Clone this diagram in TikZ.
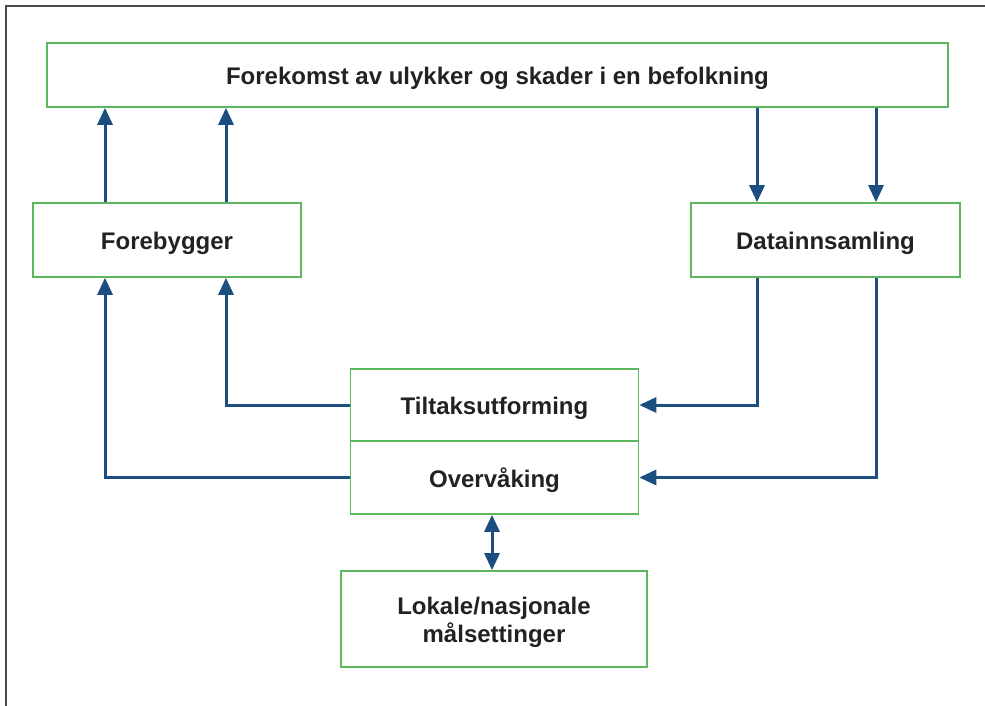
\documentclass[tikz,border=0pt]{standalone}
\usepackage{fontspec}
\setmainfont{Liberation Sans}
\usetikzlibrary{arrows.meta}
\definecolor{boxgreen}{HTML}{5DB85D}
\definecolor{arrblue}{HTML}{1C4E80}
\definecolor{txt}{HTML}{222222}
\definecolor{frame}{HTML}{4A4A4A}
\newcommand{\dn}[2][3pt]{\raisebox{-#1}[\height][\depth]{#2}}
\tikzset{
  box/.style={draw=boxgreen, line width=1.6pt, fill=white, rectangle, inner sep=0pt,
    font=\fontsize{24}{28}\selectfont\bfseries, text=txt, align=center},
  arr/.style={draw=arrblue, line width=3pt, -{Triangle[length=17pt,width=15pt]}},
  dbl/.style={draw=arrblue, line width=3pt, {Triangle[length=17pt,width=15pt]}-{Triangle[length=17pt,width=15pt]}}
}
\begin{document}
\begin{tikzpicture}[x=1pt,y=-1pt]
\useasboundingbox (0,0) rectangle (985,706);
\draw[frame, line width=2pt] (6,706) -- (6,6) -- (985,6);
\node[box, minimum width=901pt, minimum height=64pt] (top) at (497.5,75) {\dn{Forekomst av ulykker og skader i en befolkning}};
\node[box, minimum width=268pt, minimum height=74pt] (fore) at (167,240) {\dn{Forebygger}};
\node[box, minimum width=269pt, minimum height=74pt] (data) at (825.5,240) {\dn{Datainnsamling}};
\node[box, minimum width=288pt, minimum height=72pt] (tilt) at (494.5,405) {\dn{Tiltaksutforming}};
\node[box, minimum width=288pt, minimum height=73pt] (over) at (494.5,477.5) {\dn{Overvåking}};
\node[box, minimum width=306pt, minimum height=96pt] (lok) at (494,619) {\dn[4pt]{\begin{tabular}{@{}c@{}}Lokale/nasjonale\\målsettinger\end{tabular}}};
\draw[arr] (105,0 |- fore.north) -- (105,0 |- top.south);
\draw[arr] (226,0 |- fore.north) -- (226,0 |- top.south);
\draw[arr] (757,0 |- top.south) -- (757,0 |- data.north);
\draw[arr] (876,0 |- top.south) -- (876,0 |- data.north);
\draw[arr] (tilt.west) -| (226,0 |- fore.south);
\draw[arr] (over.west) -| (105,0 |- fore.south);
\draw[arr] (757,0 |- data.south) |- (tilt.east);
\draw[arr] (876,0 |- data.south) |- (over.east);
\draw[dbl] (492,0 |- over.south) -- (492,0 |- lok.north);
\end{tikzpicture}
\end{document}
